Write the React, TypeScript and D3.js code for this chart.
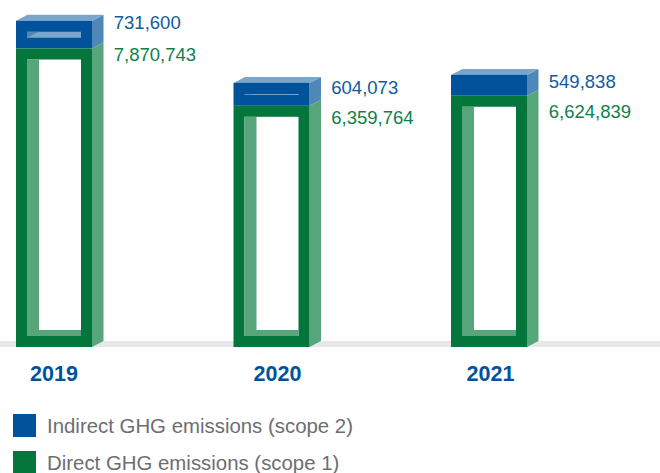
import React from "react";
import * as d3 from "d3";

const years = ["2019", "2020", "2021"];
const indirect = [731600, 604073, 549838];
const direct = [7870743, 6359764, 6624839];
const legendLabels = ["Indirect GHG emissions (scope 2)", "Direct GHG emissions (scope 1)"];

// Hand-placed label layout of the reference
const yearLabelShift = [0, 6, 1.5];
const blueLabelBaseline = [28.5, 93.5, 88];
const greenLabelBaseline = [60.5, 123.5, 118];

const W = 660, H = 473;
const BAR_W = 76, DX = 11.5, DY = 6, WALL = 11, BACK = 12, BASE = 347;
const BLUE = "#00539b", BLUE_SIDE = "#4f87b8", BLUE_TOP = "#7ba6cc";
const GREEN = "#04753b", GREEN_SIDE = "#57a67b";
const BLUE_TEXT = "#0f5c9e", GREEN_TEXT = "#0f7f4b", GRAY = "#6d6e71";
const FONT = "'Liberation Sans', Arial, sans-serif";

const x = d3.scalePoint<string>().domain(years).range([54, 489]);
const h = d3.scaleLinear().domain([0, 7870743]).range([0, 298.5]);
const poly = (p: number[][]) => p.map((q) => q.join(",")).join(" ");

export default function App() {
  return (
    <svg width={W} height={H} viewBox={`0 0 ${W} ${H}`} style={{ position: "absolute", left: 0, top: 0 }}>
      <rect x={0} y={341} width={W} height={6} fill="#e6e7e8" />
      {years.map((yr, i) => {
        const l = x(yr)! - BAR_W / 2;
        const r = l + BAR_W;
        const gTop = BASE - h(direct[i]);
        const bTop = gTop - h(indirect[i]);
        const holeTop = gTop + WALL;
        const floorFront = BASE - WALL;
        const slit = Math.max(0, h(indirect[i]) - 2 * WALL + 0.3);
        return (
          <g key={yr}>
            <polygon fill={GREEN_SIDE} points={poly([[r, gTop], [r + DX, gTop - DY], [r + DX, BASE - DY], [r, BASE]])} />
            <polygon fill={BLUE_SIDE} points={poly([[r, bTop], [r + DX, bTop - DY], [r + DX, gTop - DY], [r, gTop]])} />
            <polygon fill={BLUE_TOP} points={poly([[l, bTop], [l + DX, bTop - DY], [r + DX, bTop - DY], [r, bTop]])} />
            <rect x={l} y={bTop} width={BAR_W} height={gTop - bTop} fill={BLUE} />
            <rect x={l} y={gTop} width={BAR_W} height={BASE - gTop} fill={GREEN} />
            <rect x={l + WALL} y={holeTop} width={BAR_W - 2 * WALL} height={floorFront - holeTop} fill="#fff" />
            <rect x={l + WALL} y={holeTop} width={BACK} height={floorFront - holeTop} fill={GREEN_SIDE} />
            <polygon
              fill={GREEN_SIDE}
              points={poly([[l + WALL, floorFront], [l + WALL + BACK, floorFront - DY], [r - WALL, floorFront - DY], [r - WALL, floorFront]])}
            />
            {slit > 0 && (
              <>
                <polygon
                  fill={BLUE_TOP}
                  points={poly([[l + WALL, bTop + WALL], [r - WALL, bTop + WALL], [r - WALL, bTop + WALL + slit], [l + WALL, bTop + WALL + slit]])}
                />
                <polygon
                  fill={BLUE_SIDE}
                  points={poly([[l + WALL, bTop + WALL], [l + WALL + BACK, bTop + WALL], [l + WALL, bTop + WALL + slit]])}
                />
              </>
            )}
            <text x={r + DX + 10.3} y={blueLabelBaseline[i]} fill={BLUE_TEXT} fontFamily={FONT} fontSize={18.5}>
              {d3.format(",")(indirect[i])}
            </text>
            <text x={r + DX + 10.3} y={greenLabelBaseline[i]} fill={GREEN_TEXT} fontFamily={FONT} fontSize={18.5}>
              {d3.format(",")(direct[i])}
            </text>
            <text x={x(yr)! + yearLabelShift[i]} y={381} textAnchor="middle" fill={BLUE} fontFamily={FONT} fontWeight="bold" fontSize={21.5}>
              {yr}
            </text>
          </g>
        );
      })}
      {legendLabels.map((t, i) => (
        <g key={t}>
          <rect x={13} y={414 + i * 37} width={23} height={23} fill={i === 0 ? BLUE : GREEN} />
          <text x={47} y={432.5 + i * 37} fill={GRAY} fontFamily={FONT} fontSize={20.4}>
            {t}
          </text>
        </g>
      ))}
    </svg>
  );
}
